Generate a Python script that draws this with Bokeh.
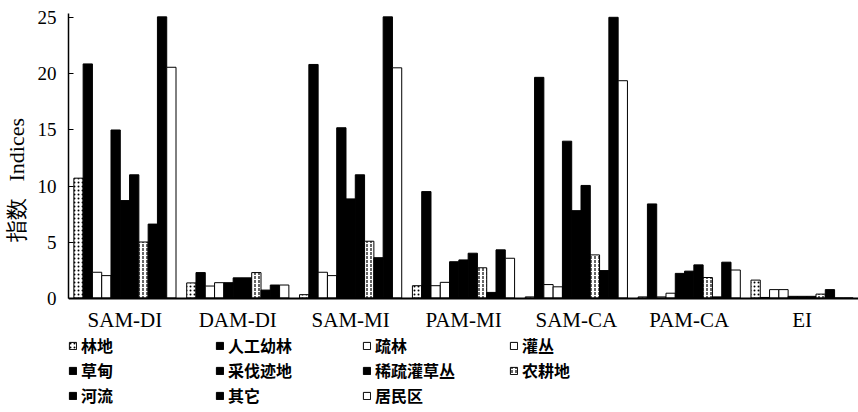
from bokeh.plotting import figure
from bokeh.models import FactorRange, Range1d, Legend, LegendItem, FixedTicker, ColumnDataSource
from bokeh.transform import dodge
from bokeh.embed import file_html
from bokeh.resources import INLINE

# ---- data ----
groups = ["SAM-DI", "DAM-DI", "SAM-MI", "PAM-MI", "SAM-CA", "PAM-CA", "EI"]
series_names = ["林地", "人工幼林", "疏林", "灌丛", "草甸", "采伐迹地",
                "稀疏灌草丛", "农耕地", "河流", "其它", "居民区"]

lindi        = [10.7, 1.35, 0.3, 1.1, 0.1, 0.1, 1.6]
rengongyoulin = [20.9, 2.27, 20.85, 9.5, 19.7, 8.4, 0.05]
shulin       = [2.3, 1.07, 2.3, 1.1, 1.2, 0.1, 0.75]
guancong     = [2.0, 1.37, 2.0, 1.4, 1.0, 0.43, 0.75]
caodian      = [15.0, 1.37, 15.2, 3.24, 14.0, 2.2, 0.15]
caifajidi    = [8.7, 1.8, 8.85, 3.4, 7.8, 2.4, 0.15]
xishuguancaocong = [11.0, 1.8, 11.0, 4.0, 10.05, 2.96, 0.15]
nonggengdi   = [5.0, 2.27, 5.07, 2.7, 3.85, 1.83, 0.35]
heliu        = [6.6, 0.71, 3.6, 0.5, 2.45, 0.1, 0.75]
qita         = [25.1, 1.16, 25.1, 4.3, 25.06, 3.2, 0.0]
juminqu      = [20.6, 1.16, 20.55, 3.55, 19.4, 2.5, 0.0]

series_values = [lindi, rengongyoulin, shulin, guancong, caodian, caifajidi,
                 xishuguancaocong, nonggengdi, heliu, qita, juminqu]
y_ticks = [0, 5, 10, 15, 20, 25]

# ---- styles ----
fills = ["white", "black", "white", "white", "black", "black",
         "black", "white", "black", "black", "white"]
hatches = ["dot", None, None, None, None, None, None, ":", None, None, None]

p = figure(width=858, height=412, x_range=FactorRange(*groups),
           y_range=Range1d(-10.22, 25.4), output_backend="svg", toolbar_location=None,
           min_border_left=67, min_border_right=0, min_border_top=13,
           min_border_bottom=0)
p.outline_line_color = None
p.xgrid.visible = False
p.ygrid.visible = False
p.background_fill_color = "white"
p.border_fill_color = "white"

bar_w = 0.0823
items = []
n = len(series_names)
for j, (name, vals) in enumerate(zip(series_names, series_values)):
    src = ColumnDataSource(dict(group=groups, value=vals))
    off = (j - (n - 1) / 2) * bar_w
    kw = dict(fill_color=fills[j], line_color="black", line_width=1)
    if hatches[j]:
        kw.update(hatch_pattern=hatches[j], hatch_color="black",
                  hatch_scale=4, hatch_weight=1.2)
    r = p.vbar(x=dodge("group", off, range=p.x_range), top="value",
               width=bar_w, source=src, **kw)
    items.append(LegendItem(label=name, renderers=[r]))

# y axis
ya = p.yaxis[0]
ya.bounds = (0, 25.4)
ya.ticker = FixedTicker(ticks=y_ticks)
ya.major_label_text_font = "Liberation Serif"
ya.major_label_text_font_size = "19px"
ya.major_label_text_color = "black"
ya.major_tick_in = 5
ya.major_tick_out = 0
ya.minor_tick_line_color = None
ya.axis_line_width = 1.5
ya.axis_line_color = "black"
ya.major_tick_line_color = "black"
ya.major_label_standoff = 12
ya.axis_label = "\u00a0" * 12 + "指数\u00a0\u00a0\u00a0Indices"
ya.axis_label_text_font = "Liberation Serif"
ya.axis_label_text_font_style = "normal"
ya.axis_label_text_font_size = "22px"
ya.axis_label_text_color = "black"
ya.axis_label_standoff = 6

# x axis drawn at y = 0 inside the frame
xa = p.xaxis[0]
xa.fixed_location = 0
xa.major_label_text_font = "Liberation Serif"
xa.major_label_text_font_size = "21px"
xa.major_label_text_color = "black"
xa.major_tick_in = 0
xa.major_tick_out = 0
xa.major_tick_line_color = None
xa.axis_line_width = 2
xa.axis_line_color = "black"
xa.major_label_standoff = 10

legend = Legend(items=items, orientation="horizontal", ncols=4,
                location=(0, 5),
                label_text_font="Noto Sans CJK SC", label_text_font_style="bold",
                label_text_font_size="16px", label_text_color="black",
                glyph_width=9, glyph_height=9, label_standoff=4,
                label_width=133, label_height=20, spacing=1,
                padding=0, margin=0, border_line_color=None,
                background_fill_alpha=0)
p.add_layout(legend, "center")

open("out.html", "w").write(file_html(p, INLINE))
